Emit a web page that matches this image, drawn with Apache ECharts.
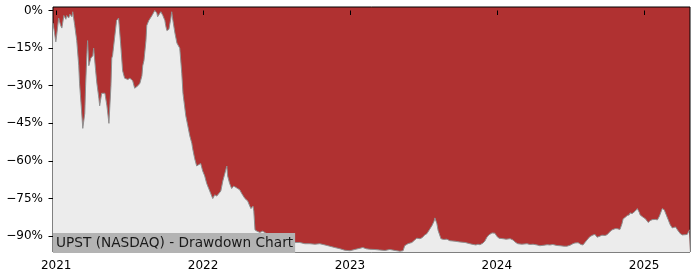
<!DOCTYPE html>
<html>
<head>
<meta charset="utf-8">
<style>
html,body{margin:0;padding:0;background:#fff;}
#chart{width:700px;height:280px;}
</style>
<script src="https://cdn.jsdelivr.net/npm/echarts@6/dist/echarts.min.js"></script>
</head>
<body>
<div id="chart"></div>
<script>
const dates = ['2020-12-24','2020-12-27','2020-12-31','2021-01-02','2021-01-07','2021-01-12','2021-01-15','2021-01-20','2021-01-25','2021-01-27',
'2021-02-01','2021-02-04','2021-02-09','2021-02-11','2021-02-16','2021-02-21','2021-02-26','2021-02-28','2021-03-05','2021-03-08',
'2021-03-13','2021-03-15','2021-03-18','2021-03-20','2021-03-23','2021-03-28','2021-04-02','2021-04-04','2021-04-09','2021-04-12',
'2021-04-17','2021-04-19','2021-04-24','2021-05-02','2021-05-07','2021-05-12','2021-05-17','2021-05-19','2021-05-21','2021-05-26',
'2021-05-31','2021-06-05','2021-06-10','2021-06-15','2021-06-20','2021-06-28','2021-07-03','2021-07-10','2021-07-15','2021-07-23',
'2021-07-28','2021-08-02','2021-08-04','2021-08-07','2021-08-12','2021-08-14','2021-08-19','2021-08-27','2021-09-03','2021-09-08',
'2021-09-10','2021-09-13','2021-09-18','2021-09-23','2021-09-28','2021-09-30','2021-10-03','2021-10-08','2021-10-13','2021-10-15',
'2021-10-18','2021-10-23','2021-10-28','2021-11-04','2021-11-07','2021-11-09','2021-11-12','2021-11-19','2021-11-24','2021-11-29',
'2021-12-04','2021-12-06','2021-12-11','2021-12-16','2021-12-21','2021-12-26','2021-12-31','2022-01-05','2022-01-10','2022-01-15',
'2022-01-20','2022-01-25','2022-01-30','2022-02-04','2022-02-09','2022-02-14','2022-02-19','2022-02-24','2022-03-01','2022-03-03',
'2022-03-08','2022-03-13','2022-03-18','2022-03-23','2022-03-28','2022-04-02','2022-04-07','2022-04-15','2022-04-22','2022-04-27',
'2022-04-30','2022-05-05','2022-05-07','2022-05-10','2022-05-15','2022-05-22','2022-05-29','2022-06-03','2022-06-08','2022-06-16',
'2022-06-28','2022-07-11','2022-07-23','2022-08-05','2022-08-17','2022-08-29','2022-09-11','2022-09-23','2022-10-06','2022-10-18',
'2022-10-31','2022-11-12','2022-11-24','2022-12-07','2022-12-19','2023-01-01','2023-01-13','2023-01-26','2023-02-02','2023-02-10',
'2023-02-19','2023-03-04','2023-03-16','2023-03-29','2023-04-10','2023-04-23','2023-05-05','2023-05-13','2023-05-17','2023-05-25',
'2023-06-04','2023-06-11','2023-06-16','2023-06-24','2023-06-29','2023-07-06','2023-07-11','2023-07-19','2023-07-24','2023-07-29',
'2023-07-31','2023-08-03','2023-08-05','2023-08-08','2023-08-13','2023-08-15','2023-08-22','2023-08-30','2023-09-06','2023-09-19',
'2023-10-01','2023-10-14','2023-10-26','2023-10-31','2023-11-03','2023-11-10','2023-11-15','2023-11-20','2023-11-27','2023-12-02',
'2023-12-07','2023-12-12','2023-12-20','2023-12-27','2024-01-01','2024-01-06','2024-01-16','2024-01-24','2024-02-03','2024-02-10',
'2024-02-17','2024-02-22','2024-03-03','2024-03-16','2024-03-23','2024-03-31','2024-04-10','2024-04-17','2024-04-27','2024-05-05',
'2024-05-12','2024-05-19','2024-05-29','2024-06-06','2024-06-16','2024-06-23','2024-07-01','2024-07-08','2024-07-13','2024-07-21',
'2024-07-28','2024-08-02','2024-08-07','2024-08-12','2024-08-19','2024-08-27','2024-09-01','2024-09-06','2024-09-13','2024-09-18',
'2024-09-26','2024-10-01','2024-10-06','2024-10-13','2024-10-21','2024-10-26','2024-11-02','2024-11-07','2024-11-10','2024-11-15',
'2024-11-20','2024-11-25','2024-11-27','2024-12-02','2024-12-05','2024-12-10','2024-12-15','2024-12-20','2024-12-22','2024-12-30',
'2025-01-04','2025-01-11','2025-01-16','2025-01-21','2025-01-29','2025-02-03','2025-02-08','2025-02-10','2025-02-15','2025-02-20',
'2025-02-25','2025-03-02','2025-03-07','2025-03-12','2025-03-20','2025-03-25','2025-04-01','2025-04-06','2025-04-13','2025-04-18',
'2025-04-23','2025-04-25'];

const drawdown = [-5,-8,-12.5,-10,-3,-6,-7,-2,-3.5,-2,
-3,-1.5,-2.5,-0.5,-6,-12,-22,-29,-40,-47,
-41,-30,-18,-12,-22,-19,-18,-15,-24,-29,
-35,-38,-33,-33,-38,-45,-30,-19,-18,-11,
-4,-3,-13,-24,-27,-27.5,-27,-28,-31,-30,
-29,-26,-22,-20,-12,-6,-4,-2,0,-1,
-2.5,-2,-0.5,-2,-4,-6,-8,-7.5,-3,-0.5,
-4,-9,-13,-15,-15.5,-25,-33,-42,-46,-50,
-53,-55,-59,-62,-61.5,-61,-64,-66,-69,-71,
-73,-75,-73.5,-74,-73,-72,-68,-65,-62,-66,
-69,-71,-70,-70.5,-71,-71.5,-73,-75,-76,-78,
-79,-78,-80,-87.5,-88,-88.5,-88,-88.5,-89,-89.5,
-90.5,-91,-91.5,-92,-92.5,-92.5,-93,-93,-93.2,-93,
-93.5,-94,-94.5,-95,-95.6,-95.8,-95.3,-94.8,-94.5,-95,
-95.2,-95.3,-95.5,-95.7,-95.3,-95.7,-96,-95.8,-93.8,-93,
-92.5,-91.5,-90.8,-91,-90.6,-89.5,-89,-87,-85.7,-84,
-82.7,-83,-85,-87.7,-90,-91,-91.3,-91.2,-91.8,-92,
-92.3,-92.5,-93,-93.2,-92.6,-93.5,-93.2,-93.4,-92.8,-92,
-90.5,-89.5,-88.7,-88.8,-90,-90.8,-91,-91.2,-91,-91.5,
-92.5,-93,-93.2,-93,-93.3,-93.2,-93.5,-93.8,-93.6,-93.4,
-93.5,-93.3,-93.7,-93.8,-94,-94,-93.6,-93,-92.7,-92.6,
-93.3,-93.5,-92.5,-91.5,-90.2,-89.5,-89.3,-90.4,-90,-89.6,
-89.7,-89.4,-88.5,-87.5,-87,-87,-87.3,-85,-83,-82.5,
-81.7,-81.5,-80.7,-81,-80.5,-80,-79,-80.5,-81.5,-82.5,
-83,-84.5,-83.8,-83.4,-83.3,-83.5,-82,-81.5,-79,-79.5,
-81.5,-83.5,-85.5,-86.7,-86.3,-87.5,-89,-89.5,-89.4,-89.3,
-87.7,-87.5];

const yTicks = [0,-15,-30,-45,-60,-75,-90];
const xTickYears = [2021,2022,2023,2024,2025];
const chartTitle = 'UPST (NASDAQ) - Drawdown Chart';

function toTime(s){ const p = s.split('-').map(Number); return Date.UTC(p[0], p[1]-1, p[2]); }
const seriesData = dates.map((d,i)=>[toTime(d), drawdown[i]]);
const xTickValues = xTickYears.map(y => Date.UTC(y,0,1));
const font = 'DejaVu Sans';

const chart = echarts.init(document.getElementById('chart'), null, {renderer:'canvas'});
chart.setOption({
  animation: false,
  backgroundColor: '#ffffff',
  title: {
    text: chartTitle,
    left: 53, top: 233,
    padding: [3,2,3,3],
    backgroundColor: '#b3b3b3',
    textStyle: {fontFamily: font, fontSize: 13.7, fontWeight: 'normal', color: '#1a1a1a', lineHeight: 14}
  },
  grid: {
    left: 53, right: 10, top: 7, bottom: 28,
    show: true, backgroundColor: '#b03131', borderColor: '#000', borderWidth: 1
  },
  xAxis: {
    type: 'value',
    min: toTime(dates[0]), max: toTime(dates[dates.length-1]),
    splitLine: {show:false},
    axisLine: {show:false},
    axisTick: {show:true, length:4.5, lineStyle:{color:'#000'}, customValues: xTickValues},
    axisLabel: {
      customValues: xTickValues,
      margin: 8,
      fontFamily: font, fontSize: 12, color: '#000',
      formatter: v => String(new Date(v).getUTCFullYear())
    }
  },
  yAxis: {
    type: 'value',
    min: -96.3, max: 1.4,
    splitLine: {show:false},
    axisLine: {show:false},
    axisTick: {show:true, length:4.5, lineStyle:{color:'#000'}, customValues: yTicks},
    axisLabel: {
      customValues: yTicks,
      margin: 10,
      fontFamily: font, fontSize: 12, color: '#000',
      formatter: v => String(v).replace('-', '\u2212') + '%'
    }
  },
  series: [{
    type: 'line',
    data: seriesData,
    showSymbol: false,
    symbol: 'none',
    lineStyle: {color: '#8f8f8f', width: 1},
    areaStyle: {color: '#ececec', opacity: 1, origin: 'start'}
  }]
});
</script>
</body>
</html>
